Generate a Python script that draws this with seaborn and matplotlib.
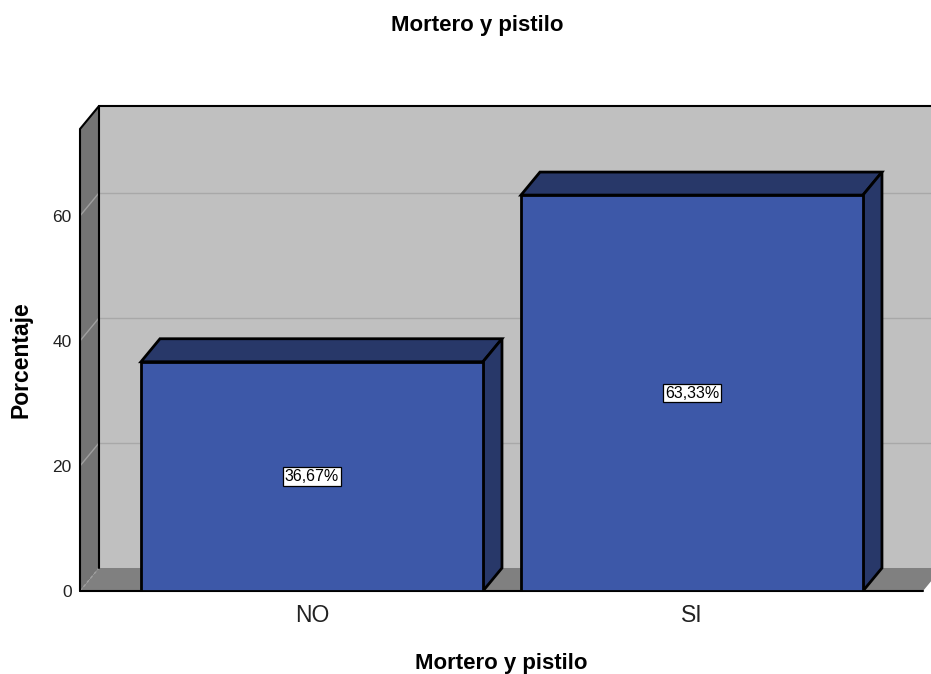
import numpy as np
import pandas as pd
import seaborn as sns
import matplotlib.pyplot as plt
from matplotlib.patches import Polygon

# Datos
categorias = ["NO", "SI"]
porcentajes = [36.67, 63.33]
etiquetas = ["36,67%", "63,33%"]
ticks_y = [0, 20, 40, 60]

sns.set_style("white")
plt.rcParams['font.family'] = ['Liberation Sans', 'DejaVu Sans']
plt.rcParams['text.color'] = 'black'
plt.rcParams['axes.labelcolor'] = 'black'
plt.rcParams['xtick.color'] = '#222222'
plt.rcParams['ytick.color'] = '#222222'

fig = plt.figure(figsize=(9.31, 6.74), dpi=100)
ax = fig.add_axes([80 / 931, 83 / 674, 843 / 931, 462 / 674])

df = pd.DataFrame({"cat": categorias, "pct": porcentajes})
sns.barplot(data=df, x="cat", y="pct", width=0.9, color="#3d58a8", saturation=1,
            edgecolor="black", linewidth=2, ax=ax, zorder=5)
barras = list(ax.patches)

# Geometría del "3D"
ymax = 73.9
x0, x1 = -0.6105, 1.608
dx, dy = 0.05, 3.68

def poli(pts, fc, ec="none", lw=0, z=1):
    ax.add_patch(Polygon(pts, closed=True, facecolor=fc, edgecolor=ec, linewidth=lw,
                         zorder=z, clip_on=False, joinstyle="miter"))

# pared del fondo, suelo y pared izquierda
poli([(x0 + dx, dy), (x1 + dx, dy), (x1 + dx, ymax + dy), (x0 + dx, ymax + dy)], "#c0c0c0", z=0)
poli([(x0, 0), (x1, 0), (x1 + dx, dy), (x0 + dx, dy)], "#808080", z=1)
poli([(x0, 0), (x0, ymax), (x0 + dx, ymax + dy), (x0 + dx, dy)], "#747474", z=1)

for v in ticks_y[1:]:
    ax.plot([x0 + dx, x1 + dx], [v + dy, v + dy], color="#a8a8a8", lw=1, zorder=1.5, clip_on=False)
    ax.plot([x0, x0 + dx], [v, v + dy], color="#a0a0a0", lw=1, zorder=1.5, clip_on=False)
ax.plot([x0, x0 + dx], [0, dy], color="#a0a0a0", lw=1, ls=(0, (2, 2)), zorder=1.5, clip_on=False)

# bordes negros
k = dict(color="black", lw=1.5, zorder=2, clip_on=False, solid_joinstyle="miter")
ax.plot([x0, x0, x0 + dx, x1 + dx], [0, ymax, ymax + dy, ymax + dy], **k)
ax.plot([x0 + dx, x0 + dx], [dy, ymax + dy], **k)
ax.plot([x0, x1], [0, 0], **k)

# caras superior y lateral de las barras
for p, lab in zip(barras, etiquetas):
    bx, w, h = p.get_x(), p.get_width(), p.get_height()
    poli([(bx, h), (bx + w, h), (bx + w + dx, h + dy), (bx + dx, h + dy)], "#283869",
         ec="black", lw=2, z=4)
    poli([(bx + w, 0), (bx + w + dx, dy), (bx + w + dx, h + dy), (bx + w, h)], "#283869",
         ec="black", lw=2, z=4)
    ax.text(bx + w / 2, h / 2, lab, ha="center", va="center", fontsize=11.5, zorder=7,
            bbox=dict(boxstyle="square,pad=0.12", fc="white", ec="black", lw=0.9))

ax.set_xlim(x0, x1)
ax.set_ylim(0, ymax)
ax.set_yticks(ticks_y)
ax.set_facecolor("none")
for s in ax.spines.values():
    s.set_visible(False)
ax.tick_params(axis="y", length=0, pad=6, labelsize=12.5)
ax.tick_params(axis="x", length=0, pad=9, labelsize=16.5)

ax.set_xlabel("Mortero y pistilo", fontsize=16, fontweight="bold", labelpad=19)
ax.set_ylabel("Porcentaje", fontsize=16.5, fontweight="bold", labelpad=14)
fig.text(477 / 931, 1 - 26 / 674, "Mortero y pistilo", ha="center", va="center",
         fontsize=16, fontweight="bold")

fig.savefig("out.png", dpi=100)
